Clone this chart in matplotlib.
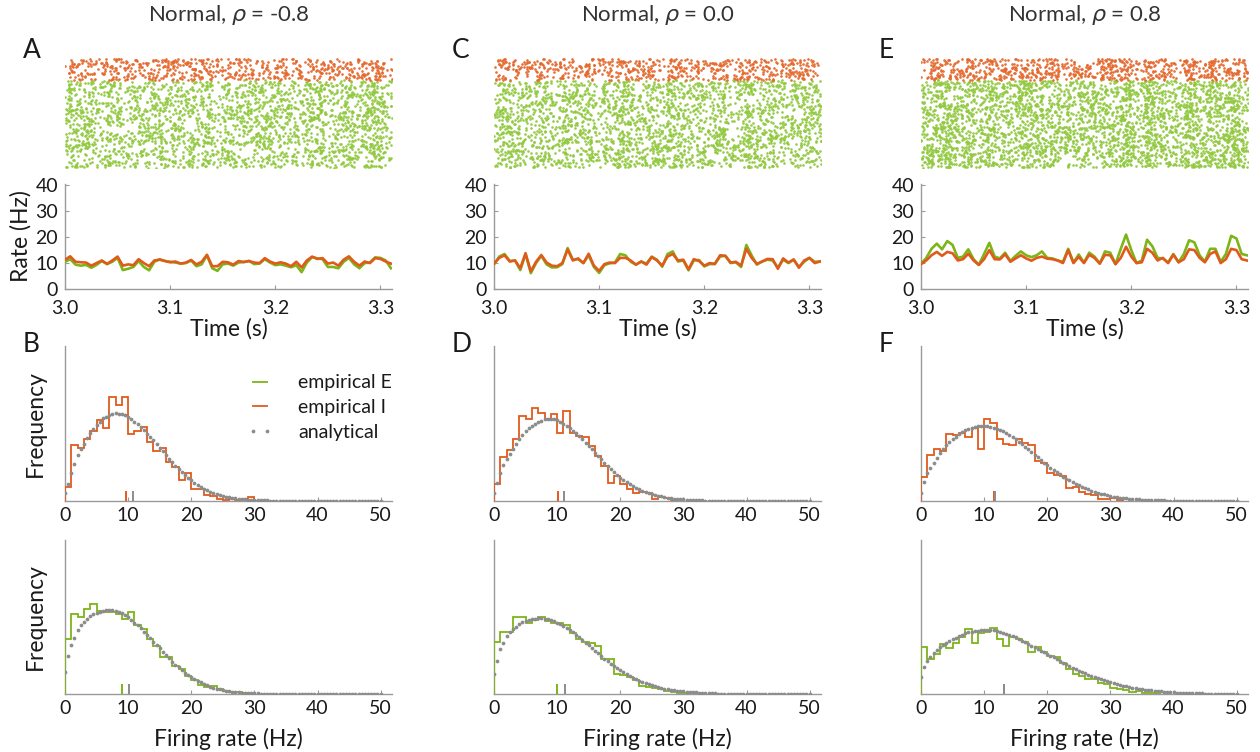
import numpy as np
import matplotlib
matplotlib.use("Agg")
import matplotlib.pyplot as plt
from matplotlib.lines import Line2D

plt.rcParams['font.family'] = ['Lato', 'DejaVu Sans']

# ---------------------------------------------------------------- data
titles = ["Normal, $\\rho$ = -0.8", "Normal, $\\rho$ = 0.0", "Normal, $\\rho$ = 0.8"]
letters_top = ["A", "C", "E"]
letters_bot = ["B", "D", "F"]

# population rates (Hz), sampled every 5 ms from 3.000 s to 3.310 s
rate_t0, rate_dt = 3.0, 0.005
rate_I_A = [11.3,12.6,10.5,10.3,10.2,9.0,10.0,11.0,9.7,11.0,12.5,9.0,9.5,9.2,11.5,10.0,8.8,11.0,11.3,10.8,
            10.3,10.6,9.8,10.2,11.2,9.5,10.5,13.2,8.8,8.8,10.5,10.3,9.4,10.8,10.4,10.8,10.2,10.0,11.9,10.6,
            9.8,10.3,9.8,8.8,10.5,8.3,11.0,12.5,11.6,11.9,9.8,10.2,9.0,11.3,12.6,10.5,9.0,10.6,10.0,11.9,
            11.6,10.6,9.8]
rate_E_A = [10.5,11.5,9.4,9.0,9.3,8.2,9.3,10.8,9.6,10.5,12.0,7.3,7.8,8.5,10.8,8.5,7.2,10.5,11.5,10.8,
            10.5,10.2,9.8,10.0,11.0,8.8,9.5,13.0,8.0,7.0,9.5,9.8,9.0,10.2,10.4,10.8,9.6,9.8,11.5,10.2,
            9.2,9.5,9.0,8.4,9.2,6.5,10.2,12.3,11.8,11.5,8.5,8.5,8.0,10.5,12.0,9.5,8.0,10.0,10.2,12.2,
            12.0,11.0,8.0]
rate_I_C = [9.8,12.0,13.0,10.6,11.0,8.0,13.8,6.8,10.5,13.1,10.2,9.0,8.8,10.0,15.2,11.0,11.8,10.0,13.6,9.0,
            7.0,9.6,10.2,10.0,12.0,12.0,11.0,9.4,10.6,9.4,12.3,11.0,9.0,12.5,13.5,11.0,11.3,7.6,11.5,10.8,
            9.0,10.0,9.7,13.0,12.8,10.2,10.5,9.0,15.5,12.0,9.7,10.6,11.6,11.5,7.8,11.8,10.2,11.4,8.2,11.0,
            12.0,10.0,10.6]
rate_E_C = [9.5,12.5,13.5,10.8,11.0,7.3,13.5,6.1,10.0,12.8,9.5,8.3,8.4,9.6,15.8,11.3,11.5,10.0,13.0,8.5,
            6.2,9.2,9.9,10.2,13.5,13.0,10.5,9.4,10.6,9.8,12.5,11.3,8.6,13.5,14.5,10.6,11.0,7.2,11.0,11.2,
            8.7,9.6,9.6,12.5,12.8,10.0,10.3,8.5,17.0,13.0,9.4,10.6,11.3,11.0,8.3,11.3,10.0,11.3,8.5,10.5,
            12.0,10.5,10.6]
rate_I_E = [9.6,11.0,13.0,14.3,12.8,14.3,13.8,11.0,11.5,13.6,11.0,9.3,11.5,15.0,11.5,11.4,13.4,10.5,11.8,13.0,
            11.8,10.9,12.0,12.5,11.7,11.5,11.0,10.0,15.0,10.0,12.4,10.0,13.2,12.0,9.8,13.2,13.0,9.6,12.0,16.3,
            12.5,10.0,10.3,15.5,14.0,11.0,12.0,10.0,13.2,10.3,11.5,15.3,15.0,12.0,10.3,13.5,14.5,10.0,11.5,15.5,
            15.0,11.5,11.0]
rate_E_E = [9.6,12.0,15.5,17.5,15.3,18.5,17.0,12.0,12.5,15.3,11.5,9.3,13.5,17.8,12.5,11.8,14.0,10.8,12.8,14.5,
            13.0,12.3,13.0,14.5,12.0,11.8,11.0,10.5,15.5,10.2,13.3,10.2,14.0,12.5,9.8,14.5,14.0,9.6,15.5,21.0,
            15.0,10.0,11.0,19.0,16.5,12.0,11.8,10.2,13.5,10.3,13.5,18.8,18.0,13.0,10.6,15.5,15.5,10.5,13.5,20.5,
            19.5,13.5,13.0]

# firing-rate histograms (relative frequency, arbitrary units), 1 Hz bins from 0 Hz
hist_bin = 1.0
hist_I_B = [0.9,3.6,3.45,4.0,4.5,5.2,4.7,6.7,6.2,6.7,4.3,4.5,4.8,3.8,3.2,3.4,2.5,2.2,1.35,1.8,
            0.8,0.75,0.4,0.3,0.1,0.07,0.15,0.05,0.1,0.25,0.02]
hist_E_B = [3.55,5.2,5.0,5.5,5.85,5.4,5.3,5.3,5.2,4.85,5.35,4.5,4.2,3.55,3.1,2.4,2.4,1.85,1.6,1.2,
            0.9,0.6,0.45,0.5,0.35,0.2,0.15,0.1,0.05]
hist_I_D = [1.07,2.86,3.3,3.98,5.48,5.3,6.0,5.7,5.3,5.6,4.4,5.8,4.4,4.2,4.1,3.55,2.9,2.26,1.18,1.6,
            1.07,0.8,0.54,0.6,0.54,0.15,0.28,0.2,0.06]
hist_E_D = [3.4,4.0,4.0,5.0,5.0,4.6,4.8,5.0,4.76,4.6,4.6,4.5,3.94,3.6,3.4,3.3,3.1,2.25,2.3,1.3,
            1.23,1.08,0.9,0.52,0.48,0.37,0.3,0.22,0.15,0.09,0.04]
hist_I_F = [1.57,2.95,3.38,3.2,4.34,4.24,4.4,4.15,4.73,3.33,5.27,5.05,3.98,3.7,3.6,3.98,3.72,3.6,2.58,2.43,
            1.78,1.66,1.61,0.86,0.92,0.58,0.43,0.37,0.15,0.11,0.2,0.06]
hist_E_F = [3.07,2.25,2.6,3.25,3.0,3.3,3.68,4.2,3.3,3.98,4.05,4.26,3.6,3.1,3.68,3.55,3.4,2.7,3.03,2.7,
            2.47,2.38,2.03,1.6,1.3,1.17,0.95,0.95,0.74,0.65,0.42,0.3,0.26,0.13,0.17,0.09,0.04,0.02]

# analytical rate densities, every 0.5 Hz from 0 to 50 Hz
theory_step = 0.5
theory_I_B = [0.50,1.07,1.83,2.40,2.97,3.35,3.70,4.05,4.40,4.65,4.90,5.12,5.33,5.45,5.55,5.61,5.65,5.64,5.60,5.54,
              5.45,5.30,5.10,4.95,4.80,4.58,4.35,4.15,3.95,3.70,3.45,3.21,2.97,2.73,2.50,2.27,2.05,1.86,1.68,1.51,
              1.35,1.19,1.03,0.91,0.80,0.70,0.60,0.52,0.45,0.39,0.34,0.29,0.25,0.21,0.18,0.15,0.13,0.11,0.09,0.075,
              0.06,0.050,0.045,0.040,0.035,0.030,0.027,0.024,0.021,0.018,0.016,0.014,0.012,0.011,0.010,0.009,0.008,
              0.007,0.006,0.005,0.005,0.004,0.004,0.003,0.003,0.003,0.002,0.002,0.002,0.002,0.001,0.001,0.001,0.001,
              0.001,0.001,0.001,0.001,0.001,0.001,0.001]
theory_E_B = [1.45,2.50,3.20,3.65,4.15,4.45,4.70,4.90,5.05,5.18,5.28,5.35,5.40,5.44,5.45,5.43,5.39,5.32,5.24,5.12,
              4.98,4.81,4.63,4.45,4.26,4.05,3.83,3.62,3.40,3.18,2.97,2.75,2.53,2.31,2.10,1.91,1.73,1.56,1.39,1.26,
              1.13,1.00,0.87,0.76,0.65,0.56,0.48,0.41,0.35,0.30,0.26,0.22,0.18,0.15,0.13,0.11,0.09,0.07,0.06,0.05,
              0.04,0.035,0.030,0.026,0.022,0.019,0.016,0.014,0.012,0.010,0.009,0.008,0.007,0.006,0.005,0.004,0.004,
              0.003,0.003,0.002,0.002,0.002,0.002,0.001,0.001,0.001,0.001,0.001,0.001,0.001,0.001,0.001,0.001,0.001,
              0.001,0.001,0.001,0.001,0.001,0.001,0.001]
theory_I_D = [0.54,1.14,1.83,2.30,2.70,3.02,3.33,3.66,3.98,4.25,4.50,4.68,4.84,4.98,5.10,5.19,5.27,5.29,5.30,5.27,
              5.22,5.12,5.00,4.86,4.70,4.54,4.37,4.18,3.98,3.77,3.55,3.34,3.12,2.91,2.69,2.48,2.26,2.06,1.87,1.68,
              1.50,1.37,1.25,1.12,0.99,0.87,0.75,0.67,0.60,0.52,0.45,0.39,0.34,0.30,0.26,0.22,0.19,0.16,0.14,0.12,
              0.10,0.085,0.070,0.060,0.050,0.042,0.035,0.030,0.025,0.020,0.017,0.014,0.012,0.010,0.008,0.007,0.006,
              0.005,0.004,0.004,0.003,0.003,0.002,0.002,0.002,0.002,0.001,0.001,0.001,0.001,0.001,0.001,0.001,0.001,
              0.001,0.001,0.001,0.001,0.001,0.001,0.001]
theory_E_D = [1.30,2.16,2.90,3.33,3.77,4.00,4.20,4.38,4.55,4.66,4.76,4.82,4.87,4.90,4.91,4.91,4.89,4.85,4.80,4.72,
              4.63,4.53,4.42,4.30,4.16,4.00,3.83,3.67,3.50,3.34,3.18,2.99,2.80,2.63,2.47,2.30,2.14,1.98,1.82,1.69,
              1.56,1.43,1.30,1.18,1.06,0.96,0.87,0.78,0.69,0.62,0.56,0.50,0.45,0.40,0.35,0.31,0.28,0.25,0.22,0.19,
              0.17,0.15,0.13,0.115,0.10,0.085,0.070,0.060,0.050,0.042,0.035,0.030,0.025,0.021,0.018,0.015,0.012,
              0.010,0.008,0.007,0.006,0.005,0.004,0.004,0.003,0.003,0.002,0.002,0.002,0.002,0.001,0.001,0.001,0.001,
              0.001,0.001,0.001,0.001,0.001,0.001,0.001]
theory_I_F = [0.54,1.23,1.83,2.15,2.47,2.80,3.12,3.36,3.60,3.79,3.98,4.14,4.30,4.43,4.56,4.65,4.73,4.78,4.82,4.83,
              4.84,4.83,4.80,4.74,4.67,4.59,4.50,4.38,4.26,4.12,3.98,3.82,3.66,3.50,3.33,3.15,2.97,2.81,2.65,2.47,
              2.30,2.15,2.00,1.86,1.72,1.58,1.44,1.33,1.23,1.12,1.01,0.92,0.84,0.75,0.67,0.60,0.54,0.48,0.43,0.37,
              0.32,0.29,0.26,0.22,0.19,0.17,0.15,0.13,0.11,0.10,0.09,0.08,0.07,0.06,0.05,0.045,0.040,0.035,0.030,
              0.025,0.020,0.018,0.016,0.014,0.012,0.010,0.009,0.008,0.007,0.006,0.005,0.004,0.004,0.003,0.003,
              0.002,0.002,0.002,0.001,0.001,0.001]
theory_E_F = [1.13,1.77,2.16,2.42,2.68,2.88,3.07,3.20,3.33,3.44,3.55,3.66,3.77,3.86,3.94,4.00,4.05,4.08,4.11,4.14,
              4.16,4.16,4.16,4.13,4.09,4.04,3.98,3.91,3.83,3.76,3.68,3.57,3.46,3.36,3.25,3.14,3.03,2.92,2.81,2.71,
              2.60,2.49,2.38,2.26,2.14,2.04,1.93,1.82,1.71,1.62,1.52,1.43,1.34,1.26,1.17,1.10,1.02,0.95,0.89,0.82,
              0.76,0.70,0.65,0.60,0.54,0.50,0.45,0.42,0.39,0.35,0.32,0.29,0.26,0.24,0.22,0.19,0.17,0.15,0.13,0.12,
              0.11,0.095,0.080,0.070,0.060,0.055,0.050,0.045,0.040,0.035,0.030,0.027,0.024,0.021,0.018,0.016,
              0.014,0.012,0.011,0.010,0.010]

# mean firing rates (Hz): empirical, analytical
mean_I = [(9.7, 10.7), (10.1, 11.1), (11.5, 11.8)]
mean_E = [(9.1, 10.1), (10.0, 11.2), (13.1, 13.2)]

# network size shown in the raster
n_exc, n_inh = 800, 200

rates_I = [rate_I_A, rate_I_C, rate_I_E]
rates_E = [rate_E_A, rate_E_C, rate_E_E]
hists_I = [hist_I_B, hist_I_D, hist_I_F]
hists_E = [hist_E_B, hist_E_D, hist_E_F]
theory_I = [theory_I_B, theory_I_D, theory_I_F]
theory_E = [theory_E_B, theory_E_D, theory_E_F]

# ---------------------------------------------------------------- style
GREEN = "#7cb518"
GREEN_DOT = "#92c940"
ORANGE = "#e05a1c"
ORANGE_DOT = "#e4692e"
GREY = "#8c8c8c"
SPINE = "#9a9a9a"
TXT = "#1a1a1a"

W, H = 1260, 752
fig = plt.figure(figsize=(W / 100, H / 100), dpi=100)


def add_ax(left, top, right, bottom):
    return fig.add_axes([left / W, 1 - bottom / H, (right - left) / W, (bottom - top) / H])


def style_axes(ax):
    for s in ("top", "right"):
        ax.spines[s].set_visible(False)
    for s in ("left", "bottom"):
        ax.spines[s].set_color(SPINE)
        ax.spines[s].set_linewidth(1.0)
    ax.tick_params(direction="in", length=3, width=0.8, color=SPINE,
                   labelsize=14, labelcolor=TXT)
    ax.tick_params(axis="x", pad=4)
    ax.tick_params(axis="y", pad=5)


col_left = [65, 494, 921]
col_w = 327
rng = np.random.default_rng(7)

for c in range(3):
    L = col_left[c]
    R = L + col_w
    rI = np.array(rates_I[c])
    rE = np.array(rates_E[c])
    t = rate_t0 + rate_dt * np.arange(len(rI))

    # ---- spike raster, spikes sampled from the population rates
    axr = add_ax(L, 58, R, 168)
    axr.set_axis_off()
    axr.set_xlim(3.0, 3.311)
    axr.set_ylim(-4, n_exc + n_inh + 4)
    for rate, n0, n, col in ((rE, 0, n_exc, GREEN_DOT), (rI, n_exc, n_inh, ORANGE_DOT)):
        rmax = rate.max()
        xs, ys = [], []
        for k in range(n):
            cand = np.sort(rng.uniform(3.0, 3.311, rng.poisson(rmax * 0.311)))
            keep = rng.uniform(0, rmax, cand.size) < np.interp(cand, t, rate)
            xs.append(cand[keep])
            ys.append(np.full(keep.sum(), n0 + k))
        axr.scatter(np.concatenate(xs), np.concatenate(ys), s=3.6, c=col,
                    linewidths=0, alpha=0.95)

    # ---- population rate
    axp = add_ax(L, 184, R, 289)
    style_axes(axp)
    axp.tick_params(axis="x", pad=8)
    axp.plot(t, rE, color=GREEN, lw=1.9, zorder=3)
    axp.plot(t, rI, color=ORANGE, lw=1.9, zorder=4)
    axp.set_xlim(3.0, 3.311)
    axp.set_ylim(0, 40.5)
    axp.set_yticks([0, 10, 20, 30, 40])
    axp.set_xticks([3.0, 3.1, 3.2, 3.3])
    axp.set_xticklabels(["3.0", "3.1", "3.2", "3.3"])
    axp.set_xlabel("Time (s)", fontsize=16.5, color=TXT, labelpad=1)
    if c == 0:
        axp.set_ylabel("Rate (Hz)", fontsize=16.5, color=TXT, labelpad=3)

    # ---- histograms
    for row, (top, bot) in enumerate(((346, 501), (540, 694))):
        axh = add_ax(L, top, R, bot)
        style_axes(axh)
        if row == 0:
            hv, tv, col, mu = hists_I[c], theory_I[c], ORANGE, mean_I[c]
        else:
            hv, tv, col, mu = hists_E[c], theory_E[c], GREEN, mean_E[c]
        edges = hist_bin * np.arange(len(hv) + 1)
        axh.stairs(hv, edges, color=col, lw=1.3, baseline=0, zorder=3)
        xt = theory_step * np.arange(len(tv))
        axh.plot(xt, tv, ls="none", marker="o", ms=2.7, mfc=GREY, mec="none", zorder=4)
        axh.vlines([mu[0]], 0, 0.65, color=col, lw=1.4, zorder=5)
        axh.vlines([mu[1]], 0, 0.65, color=GREY, lw=1.4, zorder=5)
        axh.set_xlim(0, 51.8)
        axh.set_ylim(0, 10)
        axh.set_yticks([])
        axh.set_xticks([0, 10, 20, 30, 40, 50])
        if c == 0:
            axh.set_ylabel("Frequency", fontsize=16.5, color=TXT, labelpad=14)
        if row == 1:
            axh.set_xlabel("Firing rate (Hz)", fontsize=16.5, color=TXT, labelpad=8)
        if c == 0 and row == 0:
            handles = [Line2D([], [], color=GREEN, lw=1.3),
                       Line2D([], [], color=ORANGE, lw=1.3),
                       Line2D([], [], ls="none", marker="o", ms=2.7, mfc=GREY, mec="none")]
            axh.legend(handles, ["empirical E", "empirical I", "analytical"],
                       loc="upper left", bbox_to_anchor=(0.505, 0.93), frameon=False,
                       fontsize=14, handlelength=1.3, handletextpad=1.3,
                       labelspacing=0.4, numpoints=2, labelcolor=TXT)

    # ---- titles and panel letters
    fig.text((L + R) / 2 / W, 1 - 15 / H, titles[c], ha="center", va="center",
             fontsize=16, color="#333333")
    fig.text((L - 42) / W, 1 - 50 / H, letters_top[c], ha="left", va="center",
             fontsize=19, color=TXT)
    fig.text((L - 42) / W, 1 - 345 / H, letters_bot[c], ha="left", va="center",
             fontsize=19, color=TXT)

fig.savefig("out.png", dpi=100)
